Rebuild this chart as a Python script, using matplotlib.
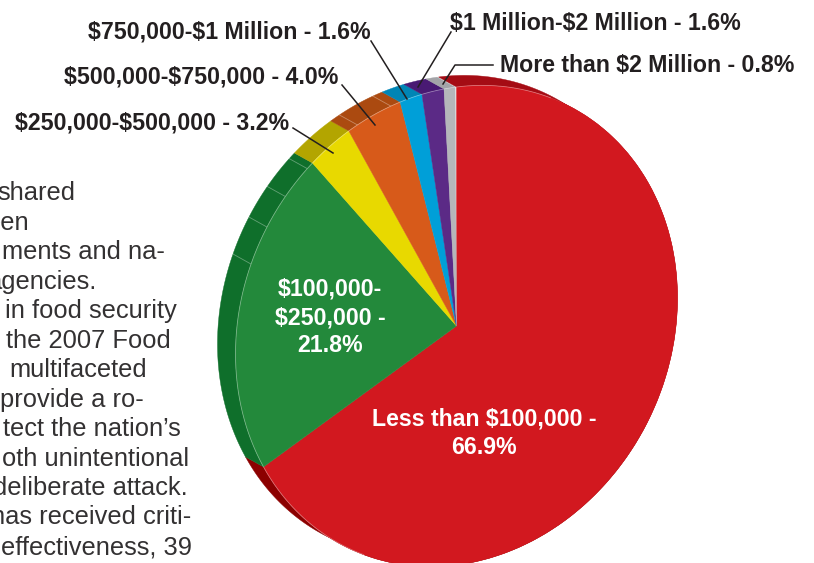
import matplotlib
matplotlib.use("Agg")
import matplotlib.pyplot as plt
import numpy as np
from matplotlib.patches import Wedge, Polygon
from matplotlib.transforms import Affine2D

# income classes, clockwise from 12 o'clock
shares = [66.9, 21.8, 3.2, 4.0, 1.6, 1.6, 0.8]
top_colors = ["#d2181f", "#23893b", "#e8d900", "#d75a1a", "#009fd8", "#5b2a86", "#b5b6ba"]
rim_colors = ["#a50c14", "#0f6f2b", "#b3a500", "#ab4a10", "#0085b5", "#491a73", "#a3a4a8"]
red_rim_low = "#8c0000"

# seams on the side of the pie, in percent clockwise from the top
rim_seams = [81.0, 83.6, 85.9, 88.2, 92.6, 95.2]

inside_labels = ["Less than $100,000 -\n66.9%", "$100,000-\n$250,000 -\n21.8%"]
outside_labels = [
    "$250,000-$500,000 - 3.2%",
    "$500,000-$750,000 - 4.0%",
    "$750,000-$1 Million - 1.6%",
    "$1 Million-$2 Million - 1.6%",
    "More than $2 Million - 0.8%",
]
# body copy of the page behind the chart, cut off at the left edge
body_lines = [
    "shared", "een", "ments and na-", "agencies.", "in food security",
    "the 2007 Food", "multifaceted", "provide a ro-", "tect the nation\u2019s",
    "oth unintentional", "deliberate attack.", "has received criti-", "effectiveness, 39",
]
body_right = [75, 30, 165, 97, 177, 171, 147, 144, 181, 189, 188, 191, 192]

plt.rcParams["font.family"] = ["Liberation Sans", "DejaVu Sans"]
fig = plt.figure(figsize=(8.14, 5.63), dpi=100)
ax = fig.add_axes([0, 0, 1, 1])
ax.set_xlim(0, 814)
ax.set_ylim(563, 0)
ax.axis("off")

# the pie is a unit circle sheared into the tilted ellipse of the picture
shear = (221, -28, 0, -239)
top_c = (456.5, 326)
rim_c = (438.5, 316)
top_tr = Affine2D.from_values(*shear, *top_c)
rim_tr = Affine2D.from_values(*shear, *rim_c)


def circle_pts(p1, p2):
    a = np.radians(3.6 * np.linspace(p1, p2, max(int(abs(p2 - p1) * 4), 2)))
    return np.column_stack([np.sin(a), np.cos(a)])


def draw_rim(p1, p2, color):
    pts = circle_pts(p1, p2)
    poly = np.vstack([top_tr.transform(pts), rim_tr.transform(pts[::-1])])
    ax.add_patch(Polygon(poly, closed=True, fc=color, ec=color, lw=0.3, zorder=1))


# side of the pie
edges = np.concatenate([[0], np.cumsum(shares)])
red_end = edges[1]
draw_rim(0, red_end / 2, rim_colors[0])
draw_rim(red_end / 2, red_end, red_rim_low)
for i in range(1, len(shares)):
    draw_rim(edges[i], edges[i + 1], rim_colors[i])

# faint facet lines on the side
for s in rim_seams:
    p = circle_pts(s, s + 0.01)[:1]
    a = top_tr.transform(p)[0]
    b = rim_tr.transform(p)[0]
    ax.plot([a[0], b[0]], [a[1], b[1]], color="#ffffff", alpha=0.35, lw=0.6, zorder=2)

# top surface
for i, c in enumerate(top_colors):
    t1 = 90 - 3.6 * edges[i + 1]
    t2 = 90 - 3.6 * edges[i]
    ax.add_patch(Wedge((0, 0), 1, t1, t2, fc=c, ec=c, lw=0.3, zorder=3,
                       transform=top_tr + ax.transData))

# thin light edge where the top meets the side
edge = top_tr.transform(circle_pts(red_end - 10, 100 + 7))
ax.plot(edge[:, 0], edge[:, 1], color="#ffffff", alpha=0.35, lw=0.6, zorder=4)

# labels on the pie
label_size = 16.65
ax.text(484, 433, inside_labels[0], color="white", fontsize=label_size, fontweight="bold",
        ha="center", va="center", linespacing=1.3, zorder=6, parse_math=False)
ax.text(330, 317.5, inside_labels[1], color="white", fontsize=label_size, fontweight="bold",
        ha="center", va="center", linespacing=1.3, zorder=6, parse_math=False)

# labels round the pie, with their leaders
dark = "#231f20"
ax.text(289, 123, outside_labels[0], color=dark, fontsize=label_size, fontweight="bold",
        ha="right", va="center", parse_math=False)
ax.text(338, 77, outside_labels[1], color=dark, fontsize=label_size, fontweight="bold",
        ha="right", va="center", parse_math=False)
ax.text(371, 32, outside_labels[2], color=dark, fontsize=label_size, fontweight="bold",
        ha="right", va="center", parse_math=False)
ax.text(450, 23.5, outside_labels[3], color=dark, fontsize=label_size, fontweight="bold",
        ha="left", va="center", parse_math=False)
ax.text(500, 66, outside_labels[4], color=dark, fontsize=label_size, fontweight="bold",
        ha="left", va="center", parse_math=False)

ax.plot([293, 333], [128, 153], color=dark, lw=1.1, zorder=7)
ax.plot([342, 375], [85, 125], color=dark, lw=1.1, zorder=7)
ax.plot([371, 407], [41, 99], color=dark, lw=1.1, zorder=7)
ax.plot([451, 418], [32, 87], color=dark, lw=1.1, zorder=7)
ax.plot([493, 455, 443], [65, 65, 84], color=dark, lw=1.1, zorder=7)

# body copy
for i, line in enumerate(body_lines):
    ax.text(body_right[i], 193 + i * 29.5, line, color="#333132", fontsize=18.4,
            ha="right", va="center", clip_on=True)

plt.savefig("out.png", dpi=100)
